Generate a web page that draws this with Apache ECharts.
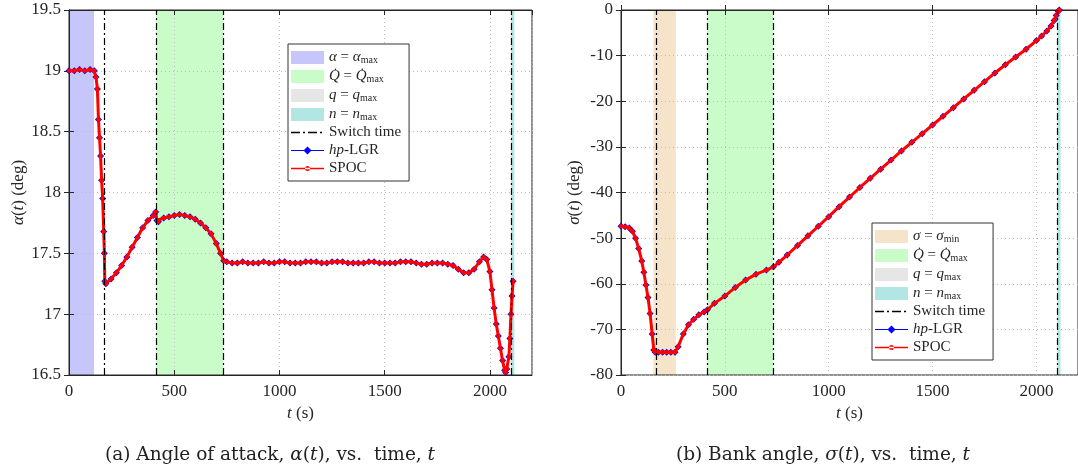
<!DOCTYPE html>
<html>
<head>
<meta charset="utf-8">
<script src="https://cdn.jsdelivr.net/npm/echarts@6/dist/echarts.min.js"></script>
<style>
  html, body { margin: 0; padding: 0; background: #fff; }
  #chart { width: 1078px; height: 473px; }
</style>
</head>
<body>
<div id="chart"></div>
<script>
// ---------- data ----------
const xTicksMax = 2200;
const tAlpha = [0,25,50,75,100,120,128,135,140,145,150,155,160,165,168,170,175,200,225,250,275,300,325,350,375,400,412,418,425,450,475,500,525,550,575,600,625,650,675,700,720,735,750,775,800,825,850,875,900,925,950,975,1000,1025,1050,1075,1100,1125,1150,1175,1200,1225,1250,1275,1300,1325,1350,1375,1400,1425,1450,1475,1500,1525,1550,1575,1600,1625,1650,1675,1700,1725,1750,1775,1800,1825,1850,1875,1900,1925,1950,1970,1985,2000,2010,2020,2030,2040,2050,2060,2070,2075,2080,2090,2095,2100,2105,2110];
const alphaHpLGR = [19.00,19.00,19.01,19.00,19.01,19.00,18.95,18.85,18.60,18.45,18.30,18.10,17.95,17.68,17.50,17.27,17.25,17.29,17.34,17.40,17.47,17.55,17.63,17.71,17.77,17.81,17.84,17.77,17.76,17.79,17.80,17.81,17.82,17.81,17.80,17.78,17.75,17.71,17.66,17.58,17.50,17.44,17.43,17.42,17.42,17.43,17.42,17.42,17.42,17.43,17.42,17.42,17.43,17.43,17.42,17.42,17.42,17.43,17.43,17.43,17.42,17.42,17.43,17.43,17.43,17.42,17.42,17.42,17.42,17.43,17.43,17.42,17.42,17.42,17.42,17.43,17.43,17.43,17.42,17.41,17.41,17.42,17.42,17.42,17.41,17.40,17.37,17.34,17.34,17.37,17.43,17.47,17.45,17.35,17.20,17.05,16.92,16.82,16.72,16.62,16.54,16.52,16.55,16.65,16.80,17.00,17.15,17.27];
const alphaSPOC = [19.00,19.00,19.01,19.00,19.01,19.00,18.95,18.85,18.60,18.45,18.30,18.10,17.95,17.68,17.50,17.27,17.25,17.29,17.34,17.40,17.47,17.55,17.63,17.71,17.77,17.81,17.84,17.77,17.76,17.79,17.80,17.81,17.82,17.81,17.80,17.78,17.75,17.71,17.66,17.58,17.50,17.44,17.43,17.42,17.42,17.43,17.42,17.42,17.42,17.43,17.42,17.42,17.43,17.43,17.42,17.42,17.42,17.43,17.43,17.43,17.42,17.42,17.43,17.43,17.43,17.42,17.42,17.42,17.42,17.43,17.43,17.42,17.42,17.42,17.42,17.43,17.43,17.43,17.42,17.41,17.41,17.42,17.42,17.42,17.41,17.40,17.37,17.34,17.34,17.37,17.43,17.47,17.45,17.35,17.20,17.05,16.92,16.82,16.72,16.62,16.54,16.52,16.55,16.65,16.80,17.00,17.15,17.27];

const tSigma = [0,20,40,55,70,85,100,110,120,130,140,150,158,165,180,200,220,240,260,275,300,325,350,375,400,416,450,500,550,600,650,700,734,760,800,850,900,950,1000,1050,1100,1150,1200,1250,1300,1350,1400,1450,1500,1550,1600,1650,1700,1750,1800,1850,1900,1950,2000,2025,2050,2070,2085,2095,2105,2110];
const sigmaHpLGR = [-47.4,-47.5,-47.8,-48.5,-50.0,-52.3,-55.0,-57.5,-60.3,-63.0,-66.5,-71.0,-74.5,-75.0,-75.0,-75.0,-75.0,-75.0,-75.0,-73.8,-71.0,-69.0,-67.8,-66.8,-66.2,-65.7,-64.3,-62.7,-60.8,-59.2,-57.9,-57.0,-56.3,-55.3,-53.7,-51.6,-49.5,-47.4,-45.3,-43.1,-41.0,-38.9,-36.9,-34.9,-32.9,-30.9,-29.0,-27.1,-25.2,-23.3,-21.4,-19.5,-17.6,-15.7,-13.8,-12.0,-10.3,-8.6,-6.7,-5.7,-4.6,-3.5,-2.3,-1.2,-0.3,0.0];
const sigmaSPOC = [-47.4,-47.5,-47.8,-48.5,-50.0,-52.3,-55.0,-57.5,-60.3,-63.0,-66.5,-71.0,-74.5,-75.0,-75.0,-75.0,-75.0,-75.0,-75.0,-73.8,-71.0,-69.0,-67.8,-66.8,-66.2,-65.7,-64.3,-62.7,-60.8,-59.2,-57.9,-57.0,-56.3,-55.3,-53.7,-51.6,-49.5,-47.4,-45.3,-43.1,-41.0,-38.9,-36.9,-34.9,-32.9,-30.9,-29.0,-27.1,-25.2,-23.3,-21.4,-19.5,-17.6,-15.7,-13.8,-12.0,-10.3,-8.6,-6.7,-5.7,-4.6,-3.5,-2.3,-1.2,-0.3,0.0];

// constraint-active intervals [start, end] (s)
const alphaMaxSpans = [[0, 119]];
const sigmaMinSpans = [[156, 264]];
const qdotMaxSpans = [[414, 732]];
const qMaxSpans = [];
const nMaxSpans = [[2100, 2116]];
const switchTimesA = [166, 414, 732, 2100];
const switchTimesB = [171, 414, 732, 2098];

// ---------- styling ----------
const FONT = 'Liberation Serif';
const CAPFONT = 'DejaVu Serif';
const TXT = '#262626';
const C = {
  alpha: '#c6c6fb', sigma: '#f5e4c9', qdot: '#c9fcc9', q: '#e6e6e6', n: '#b2e6e4',
  hp: '#0000ff', spoc: '#ff0000'
};
const zip = (t, v) => t.map((x, i) => [x, v[i]]);
const spans = s => s.map(([a, b]) => [{ xAxis: a }, { xAxis: b }]);

const rich = {
  i: { fontFamily: FONT, fontStyle: 'italic', fontSize: 15, lineHeight: 15, color: TXT },
  r: { fontFamily: FONT, fontSize: 15, lineHeight: 15, color: TXT },
  s: { fontFamily: FONT, fontSize: 10, lineHeight: 9, color: TXT, verticalAlign: 'bottom', padding: [6, 0, 0, 0] }
};
const labelMap = {
  alphaMax: '{i|α}{r| = }{i|α}{s|max}',
  sigmaMin: '{i|σ}{r| = }{i|σ}{s|min}',
  qdot: '{i|Q̇}{r| = }{i|Q̇}{s|max}',
  q: '{i|q}{r| = }{i|q}{s|max}',
  n: '{i|n}{r| = }{i|n}{s|max}',
  sw: '{r|Switch time}',
  hp: '{i|hp}{r|-LGR}',
  spoc: '{r|SPOC}'
};
// legend icon shapes (drawn by the legend, 33 px wide)
const ICON_SWITCH = 'path://M0,0h9v1.4h-9z M12,0h2v1.4h-2z M17,0h9v1.4h-9z M29,0h2v1.4h-2z M33,0h0.01v1.4h-0.01z';
const ICON_HP = 'path://M0,3.4h33v1.2h-33z M16.5,0 L20.5,4 L16.5,8 L12.5,4z';
const ICON_SPOC = 'path://M0,2.3h33v1.4h-33z M14,3 A2.5,2.5 0 1,0 19,3 A2.5,2.5 0 1,0 14,3 Z';

function areaSeries(name, color, idx, s) {
  return {
    name: name, type: 'line', xAxisIndex: idx, yAxisIndex: idx, data: [],
    color: color, itemStyle: { color: color }, symbol: 'none',
    markArea: { silent: true, z: -1, itemStyle: { color: color, opacity: 1 }, data: spans(s) }
  };
}
function switchSeries(name, idx, times) {
  const ls = { color: '#000', width: 1.2, type: [7, 3, 2, 3] };
  return {
    name: name, type: 'line', xAxisIndex: idx, yAxisIndex: idx, data: [],
    color: '#000', symbol: 'none', lineStyle: ls,
    markLine: { silent: true, symbol: 'none', label: { show: false }, lineStyle: ls,
      data: times.map(t => ({ xAxis: t })) }
  };
}
function hpSeries(name, idx, data) {
  return {
    name: name, type: 'line', xAxisIndex: idx, yAxisIndex: idx, data: data, z: 3,
    color: C.hp, symbol: 'diamond', symbolSize: 7, showSymbol: true,
    lineStyle: { width: 1.5, color: C.hp }, itemStyle: { color: C.hp }
  };
}
function spocSeries(name, idx, data) {
  return {
    name: name, type: 'line', xAxisIndex: idx, yAxisIndex: idx, data: data, z: 4,
    color: C.spoc, symbol: 'circle', symbolSize: 4.5, showSymbol: true,
    lineStyle: { width: 3, color: C.spoc }, itemStyle: { color: C.spoc }
  };
}
const nameRich = {
  i: { fontFamily: FONT, fontStyle: 'italic', fontSize: 17, color: TXT },
  r: { fontFamily: FONT, fontSize: 17, color: TXT }
};
const gridLine = { show: true, lineStyle: { color: '#bdbdbd', type: [1, 3], width: 1 } };
function xAxisCfg(idx) {
  return {
    gridIndex: idx, type: 'value', min: 0, max: xTicksMax, interval: 500,
    name: '{i|t}{r| (s)}', nameLocation: 'middle', nameGap: 27,
    nameTextStyle: { rich: nameRich },
    axisLine: { lineStyle: { color: TXT, width: 1 } },
    axisTick: { inside: true, length: 5, lineStyle: { color: TXT } },
    axisLabel: { fontFamily: FONT, fontSize: 17, color: TXT, margin: 8, showMaxLabel: false, formatter: v => String(v) },
    splitLine: gridLine
  };
}
function xAxisTop(idx) {
  return {
    gridIndex: idx, type: 'value', position: 'top', min: 0, max: xTicksMax, interval: 500,
    axisLine: { show: true, lineStyle: { color: TXT, width: 1 } },
    axisTick: { show: true, inside: true, length: 5, lineStyle: { color: TXT } },
    axisLabel: { show: false }, splitLine: { show: false }
  };
}
function yAxisCfg(idx, min, max, interval, sym) {
  return {
    gridIndex: idx, type: 'value', min: min, max: max, interval: interval,
    name: '{i|' + sym + '}{r|(}{i|t}{r|) (deg)}', nameLocation: 'middle', nameGap: 38,
    nameTextStyle: { rich: nameRich },
    axisLine: { show: true, lineStyle: { color: TXT, width: 1 } },
    axisTick: { show: true, inside: true, length: 5, lineStyle: { color: TXT } },
    axisLabel: { fontFamily: FONT, fontSize: 17, color: TXT, margin: 8, formatter: v => String(v) },
    splitLine: gridLine
  };
}
function yAxisRight(idx, min, max, interval) {
  return {
    gridIndex: idx, type: 'value', position: 'right', min: min, max: max, interval: interval,
    axisLine: { show: true, lineStyle: { color: TXT, width: 1 } },
    axisTick: { show: true, inside: true, length: 5, lineStyle: { color: TXT } },
    axisLabel: { show: false }, splitLine: { show: false }
  };
}
function legendCfg(left, top, names, areaColors) {
  const icons = [null, null, null, null, ICON_SWITCH, ICON_HP, ICON_SPOC];
  return {
    orient: 'vertical', left: left, top: top,
    itemWidth: 33, itemHeight: 13, itemGap: 3, padding: [5, 8, 5, 3],
    borderColor: '#333', borderWidth: 1, backgroundColor: '#fff',
    selectedMode: false, symbolKeepAspect: true,
    data: names.map((n, i) => i < 4
      ? { name: n, icon: 'rect', itemStyle: { color: areaColors[i] } }
      : { name: n, icon: icons[i] }),
    formatter: n => labelMap[n.split('_')[0]],
    textStyle: { fontFamily: FONT, fontSize: 15, color: TXT, rich: rich }
  };
}
const capRich = {
  r: { fontFamily: CAPFONT, fontSize: 18.5, fill: '#222' },
  i: { fontFamily: CAPFONT, fontStyle: 'italic', fontSize: 18.5, fill: '#222' }
};

const option = {
  animation: false,
  backgroundColor: '#fff',
  grid: [
    { left: 69, top: 10, width: 463, height: 365, show: true, borderColor: TXT, borderWidth: 1, containLabel: false },
    { left: 621, top: 10, width: 464, height: 365, show: true, borderColor: TXT, borderWidth: 1, containLabel: false }
  ],
  xAxis: [xAxisCfg(0), xAxisCfg(1), xAxisTop(0), xAxisTop(1)],
  yAxis: [yAxisCfg(0, 16.5, 19.5, 0.5, 'α'), yAxisCfg(1, -80, 0, 10, 'σ'), yAxisRight(0, 16.5, 19.5, 0.5), yAxisRight(1, -80, 0, 10)],
  legend: [
    legendCfg(288, 44, ['alphaMax_a', 'qdot_a', 'q_a', 'n_a', 'sw_a', 'hp_a', 'spoc_a'], [C.alpha, C.qdot, C.q, C.n]),
    legendCfg(872, 223, ['sigmaMin_b', 'qdot_b', 'q_b', 'n_b', 'sw_b', 'hp_b', 'spoc_b'], [C.sigma, C.qdot, C.q, C.n])
  ],
  series: [
    areaSeries('alphaMax_a', C.alpha, 0, alphaMaxSpans),
    areaSeries('qdot_a', C.qdot, 0, qdotMaxSpans),
    areaSeries('q_a', C.q, 0, qMaxSpans),
    areaSeries('n_a', C.n, 0, nMaxSpans),
    switchSeries('sw_a', 0, switchTimesA),
    hpSeries('hp_a', 0, zip(tAlpha, alphaHpLGR)),
    spocSeries('spoc_a', 0, zip(tAlpha, alphaSPOC)),
    areaSeries('sigmaMin_b', C.sigma, 1, sigmaMinSpans),
    areaSeries('qdot_b', C.qdot, 1, qdotMaxSpans),
    areaSeries('q_b', C.q, 1, qMaxSpans),
    areaSeries('n_b', C.n, 1, nMaxSpans),
    switchSeries('sw_b', 1, switchTimesB),
    hpSeries('hp_b', 1, zip(tSigma, sigmaHpLGR)),
    spocSeries('spoc_b', 1, zip(tSigma, sigmaSPOC))
  ],
  graphic: [
    { type: 'text', x: 270, y: 455, style: { text: '{r|(a) Angle of attack, }{i|α}{r|(}{i|t}{r|), vs.  time, }{i|t}', align: 'center', verticalAlign: 'middle', rich: capRich } },
    { type: 'text', x: 823, y: 455, style: { text: '{r|(b) Bank angle, }{i|σ}{r|(}{i|t}{r|), vs.  time, }{i|t}', align: 'center', verticalAlign: 'middle', rich: capRich } }
  ]
};

const chart = echarts.init(document.getElementById('chart'), null, { renderer: 'canvas' });
chart.setOption(option);
</script>
</body>
</html>
